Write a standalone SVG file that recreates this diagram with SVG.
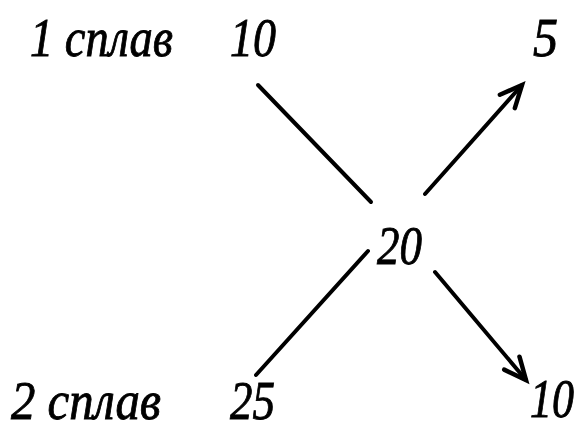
<svg xmlns="http://www.w3.org/2000/svg" width="584" height="432" viewBox="0 0 584 432">
<style>
text{font-family:"Liberation Serif","Times New Roman",serif;font-style:italic;font-size:55px;fill:#000;stroke:#000;stroke-width:0.9}
.ln{stroke:#000;stroke-width:4;fill:none;stroke-linecap:round}
</style>
<defs>
<marker id="ah" markerUnits="userSpaceOnUse" markerWidth="40" markerHeight="40" viewBox="-30 -20 40 40" refX="0" refY="0" orient="auto">
<path d="M-22,-10 L0,0 L-22,10" fill="none" stroke="#000" stroke-width="4.5" stroke-linecap="round" stroke-linejoin="miter"/>
</marker>
</defs>
<rect width="584" height="432" fill="#fff"/>
<g id="alloy1"><text x="30" y="56" textLength="143" lengthAdjust="spacingAndGlyphs">1 сплав</text></g>
<g id="v10"><text x="230" y="56" textLength="46" lengthAdjust="spacingAndGlyphs">10</text></g>
<g id="v5"><text x="533" y="56" textLength="25" lengthAdjust="spacingAndGlyphs">5</text></g>
<g id="v20"><text x="377" y="264" textLength="45" lengthAdjust="spacingAndGlyphs">20</text></g>
<g id="alloy2"><text x="11" y="419" textLength="150" lengthAdjust="spacingAndGlyphs">2 сплав</text></g>
<g id="v25"><text x="230" y="419" textLength="45" lengthAdjust="spacingAndGlyphs">25</text></g>
<g id="v10b"><text x="530" y="417" textLength="44" lengthAdjust="spacingAndGlyphs">10</text></g>
<g id="connectors">
<line class="ln" x1="258" y1="85" x2="371" y2="202"/>
<line class="ln" x1="256" y1="375" x2="368" y2="251"/>
<line class="ln" x1="425" y1="194" x2="522" y2="85" marker-end="url(#ah)"/>
<line class="ln" x1="435" y1="272" x2="526" y2="380" marker-end="url(#ah)"/>
</g>
</svg>
